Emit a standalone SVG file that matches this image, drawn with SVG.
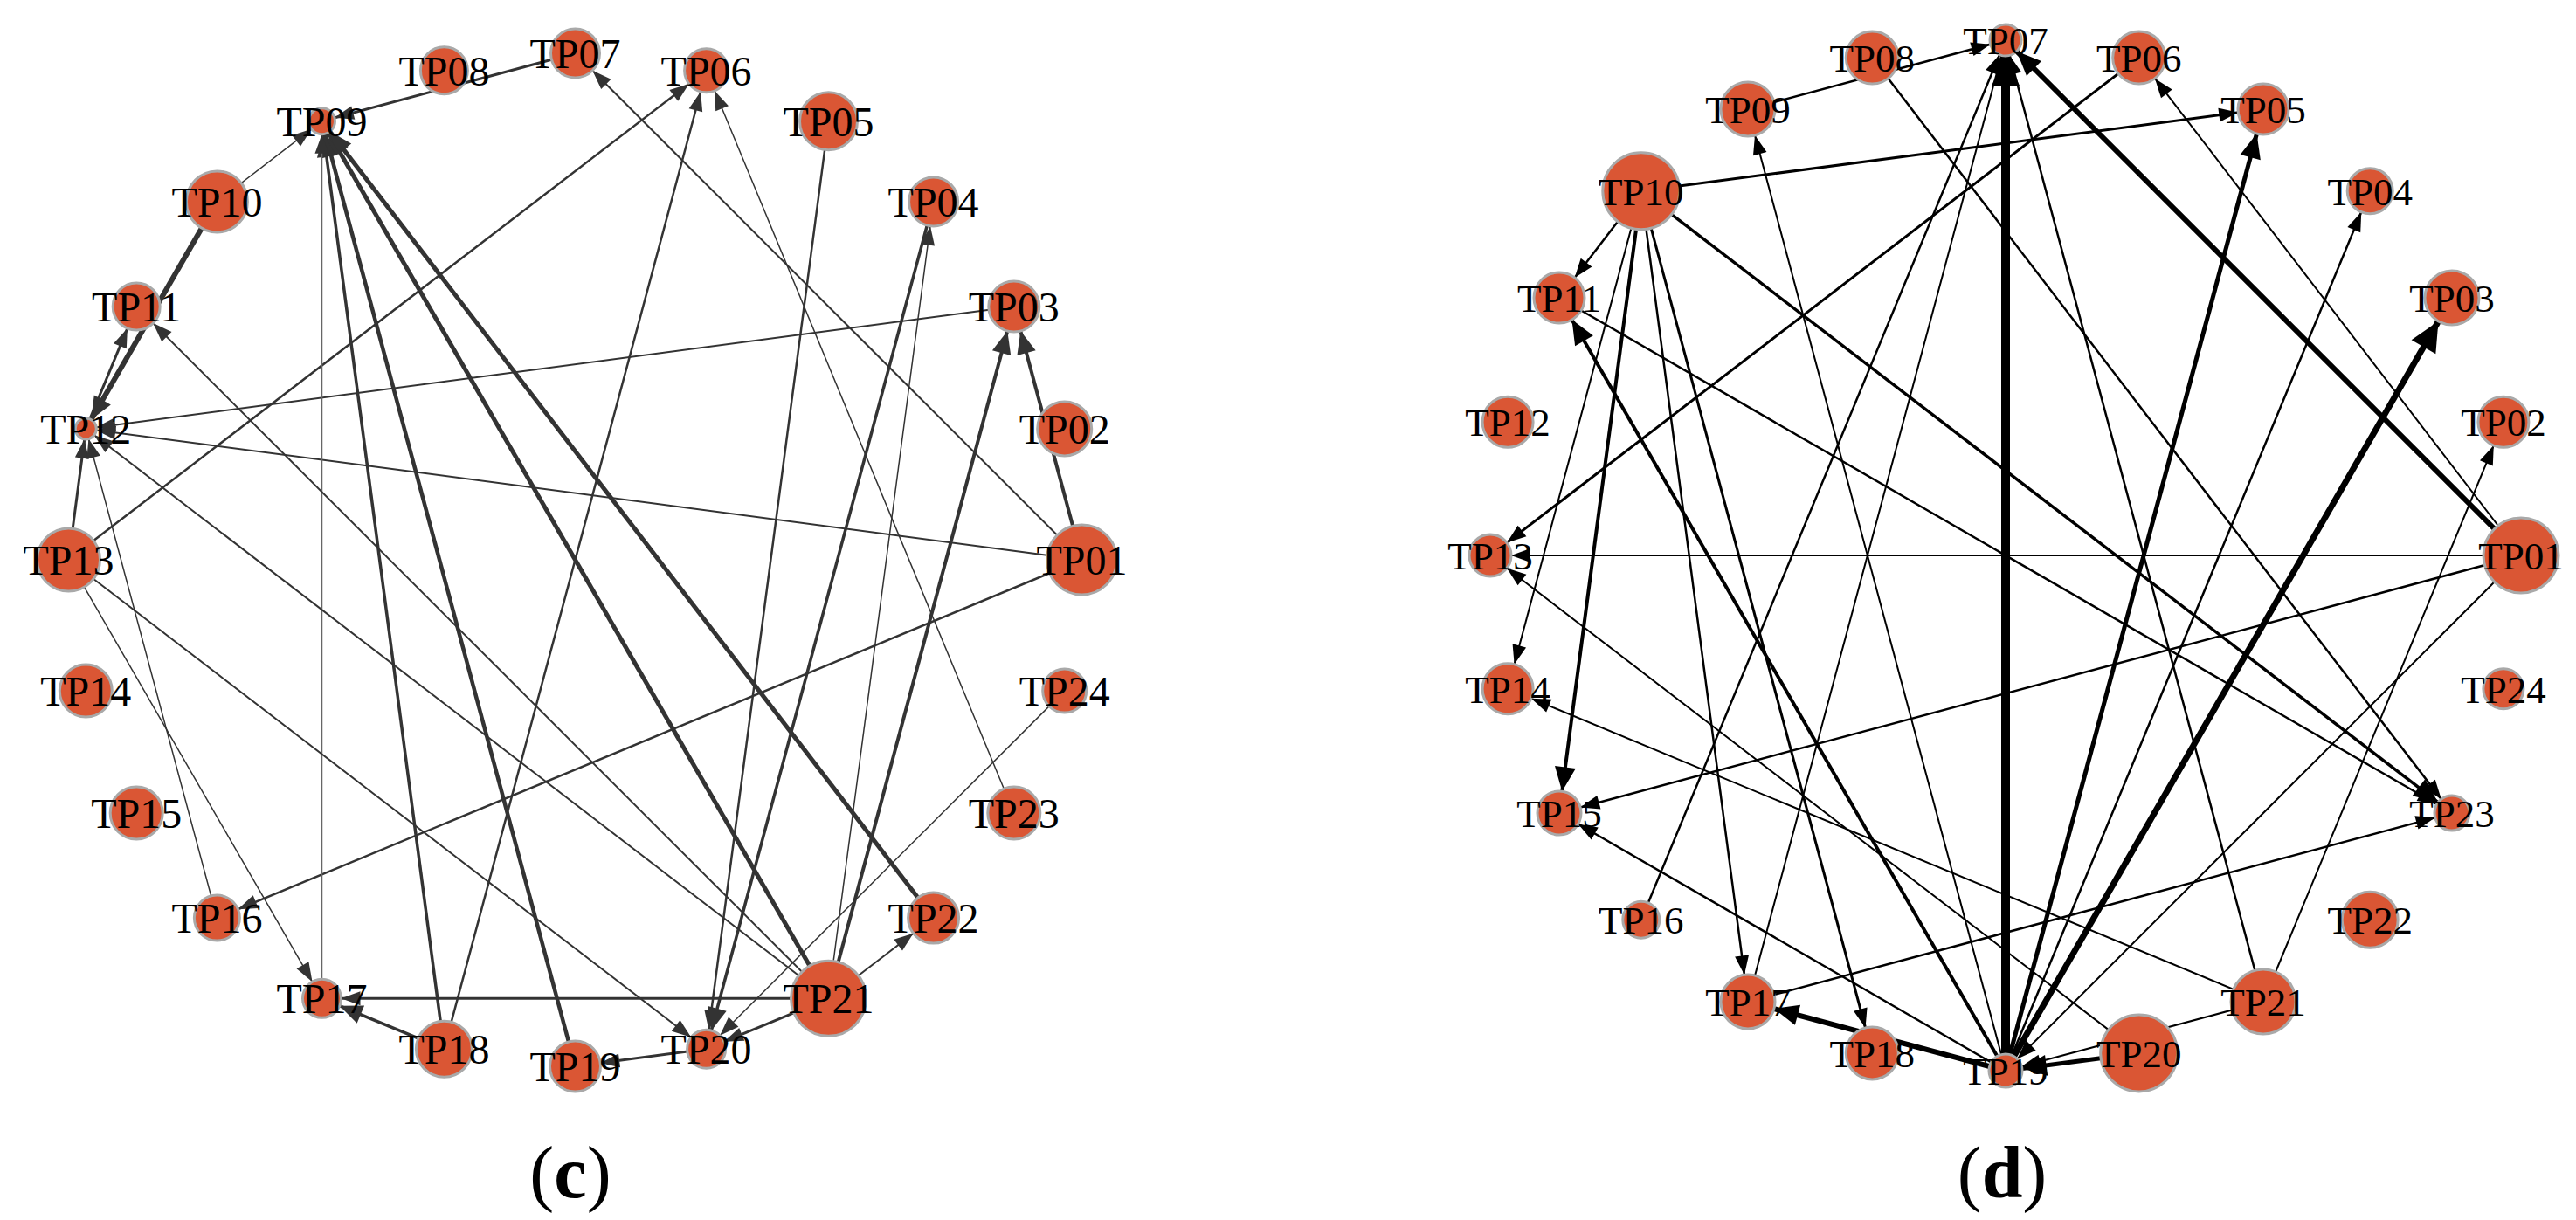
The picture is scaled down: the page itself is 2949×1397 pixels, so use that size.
<svg xmlns="http://www.w3.org/2000/svg" width="2949" height="1397" viewBox="0 0 2949 1397">
<style>
.nc{fill:#DA5634;stroke:#A9A9A9;stroke-width:3}
.lt{font-family:"Liberation Serif","Times New Roman",serif;font-size:48px;text-anchor:middle;fill:#000}
.rt{font-family:"Liberation Serif","Times New Roman",serif;font-size:45px;text-anchor:middle;fill:#000}
.le{stroke:#333;fill:none}
.lg{stroke:#666;fill:none}
.re{stroke:#000;fill:none}
.cap{font-family:"Liberation Serif","Times New Roman",serif;font-size:84px;text-anchor:middle;fill:#000}
</style>
<defs>
<path id="hl" d="M0,0L22,8L0,16Z" fill="#333"/>
<path id="hL" d="M0,0L26,11L0,22Z" fill="#333"/>
<path id="hr" d="M0,0L22,8L0,16Z" fill="#000"/>
<path id="hR" d="M0,0L28,12L0,24Z" fill="#000"/>
<path id="hX" d="M0,0L34,16L0,32Z" fill="#000"/>
<marker id="L12" markerUnits="userSpaceOnUse" orient="auto" markerWidth="22" markerHeight="16" refX="34" refY="8" overflow="visible"><use href="#hl"/></marker>
<marker id="L15" markerUnits="userSpaceOnUse" orient="auto" markerWidth="22" markerHeight="16" refX="37" refY="8" overflow="visible"><use href="#hl"/></marker>
<marker id="L22" markerUnits="userSpaceOnUse" orient="auto" markerWidth="22" markerHeight="16" refX="44" refY="8" overflow="visible"><use href="#hl"/></marker>
<marker id="L25" markerUnits="userSpaceOnUse" orient="auto" markerWidth="22" markerHeight="16" refX="47" refY="8" overflow="visible"><use href="#hl"/></marker>
<marker id="L26" markerUnits="userSpaceOnUse" orient="auto" markerWidth="22" markerHeight="16" refX="48" refY="8" overflow="visible"><use href="#hl"/></marker>
<marker id="L27" markerUnits="userSpaceOnUse" orient="auto" markerWidth="22" markerHeight="16" refX="49" refY="8" overflow="visible"><use href="#hl"/></marker>
<marker id="L28" markerUnits="userSpaceOnUse" orient="auto" markerWidth="22" markerHeight="16" refX="50" refY="8" overflow="visible"><use href="#hl"/></marker>
<marker id="L29" markerUnits="userSpaceOnUse" orient="auto" markerWidth="22" markerHeight="16" refX="51" refY="8" overflow="visible"><use href="#hl"/></marker>
<marker id="LT12" markerUnits="userSpaceOnUse" orient="auto" markerWidth="26" markerHeight="22" refX="38" refY="11" overflow="visible"><use href="#hL"/></marker>
<marker id="LT15" markerUnits="userSpaceOnUse" orient="auto" markerWidth="26" markerHeight="22" refX="41" refY="11" overflow="visible"><use href="#hL"/></marker>
<marker id="LT22" markerUnits="userSpaceOnUse" orient="auto" markerWidth="26" markerHeight="22" refX="48" refY="11" overflow="visible"><use href="#hL"/></marker>
<marker id="LT29" markerUnits="userSpaceOnUse" orient="auto" markerWidth="26" markerHeight="22" refX="55" refY="11" overflow="visible"><use href="#hL"/></marker>
<marker id="R18" markerUnits="userSpaceOnUse" orient="auto" markerWidth="22" markerHeight="16" refX="40" refY="8" overflow="visible"><use href="#hr"/></marker>
<marker id="R19" markerUnits="userSpaceOnUse" orient="auto" markerWidth="22" markerHeight="16" refX="41" refY="8" overflow="visible"><use href="#hr"/></marker>
<marker id="R20" markerUnits="userSpaceOnUse" orient="auto" markerWidth="22" markerHeight="16" refX="42" refY="8" overflow="visible"><use href="#hr"/></marker>
<marker id="R24" markerUnits="userSpaceOnUse" orient="auto" markerWidth="22" markerHeight="16" refX="46" refY="8" overflow="visible"><use href="#hr"/></marker>
<marker id="R25" markerUnits="userSpaceOnUse" orient="auto" markerWidth="22" markerHeight="16" refX="47" refY="8" overflow="visible"><use href="#hr"/></marker>
<marker id="R26" markerUnits="userSpaceOnUse" orient="auto" markerWidth="22" markerHeight="16" refX="48" refY="8" overflow="visible"><use href="#hr"/></marker>
<marker id="R29" markerUnits="userSpaceOnUse" orient="auto" markerWidth="22" markerHeight="16" refX="51" refY="8" overflow="visible"><use href="#hr"/></marker>
<marker id="R30" markerUnits="userSpaceOnUse" orient="auto" markerWidth="22" markerHeight="16" refX="52" refY="8" overflow="visible"><use href="#hr"/></marker>
<marker id="R31" markerUnits="userSpaceOnUse" orient="auto" markerWidth="22" markerHeight="16" refX="53" refY="8" overflow="visible"><use href="#hr"/></marker>
<marker id="RT18" markerUnits="userSpaceOnUse" orient="auto" markerWidth="28" markerHeight="24" refX="46" refY="12" overflow="visible"><use href="#hR"/></marker>
<marker id="RT19" markerUnits="userSpaceOnUse" orient="auto" markerWidth="28" markerHeight="24" refX="47" refY="12" overflow="visible"><use href="#hR"/></marker>
<marker id="RT20" markerUnits="userSpaceOnUse" orient="auto" markerWidth="28" markerHeight="24" refX="48" refY="12" overflow="visible"><use href="#hR"/></marker>
<marker id="RT25" markerUnits="userSpaceOnUse" orient="auto" markerWidth="28" markerHeight="24" refX="53" refY="12" overflow="visible"><use href="#hR"/></marker>
<marker id="RT29" markerUnits="userSpaceOnUse" orient="auto" markerWidth="28" markerHeight="24" refX="57" refY="12" overflow="visible"><use href="#hR"/></marker>
<marker id="RT31" markerUnits="userSpaceOnUse" orient="auto" markerWidth="28" markerHeight="24" refX="59" refY="12" overflow="visible"><use href="#hR"/></marker>
<marker id="RX18" markerUnits="userSpaceOnUse" orient="auto" markerWidth="34" markerHeight="32" refX="52" refY="16" overflow="visible"><use href="#hX"/></marker>
<marker id="RX31" markerUnits="userSpaceOnUse" orient="auto" markerWidth="34" markerHeight="32" refX="65" refY="16" overflow="visible"><use href="#hX"/></marker>
</defs>
<rect width="2949" height="1397" fill="#fff"/>

<g id="edges-c">
<line class="le" x1="1238.5" y1="641" x2="1160.8" y2="351" stroke-width="4" marker-end="url(#LT29)"/>
<line class="le" x1="948.5" y1="1143.3" x2="1160.8" y2="351" stroke-width="4" marker-end="url(#LT29)"/>
<line class="le" x1="1160.8" y1="351" x2="98.3" y2="490.9" stroke-width="2" marker-end="url(#L12)"/>
<line class="le" x1="1238.5" y1="641" x2="98.3" y2="490.9" stroke-width="2" marker-end="url(#L12)"/>
<line class="le" x1="1238.5" y1="641" x2="658.5" y2="61" stroke-width="2" marker-end="url(#L28)"/>
<line class="le" x1="1238.5" y1="641" x2="248.4" y2="1051.1" stroke-width="2.5" marker-end="url(#L26)"/>
<line class="le" x1="948.5" y1="138.7" x2="808.6" y2="1201.2" stroke-width="2.5" marker-end="url(#L22)"/>
<line class="le" x1="1068.6" y1="230.9" x2="808.6" y2="1201.2" stroke-width="3.5" marker-end="url(#LT22)"/>
<line class="le" x1="948.5" y1="1143.3" x2="1068.6" y2="230.9" stroke-width="1.5" marker-end="url(#L28)"/>
<line class="le" x1="1160.8" y1="931" x2="808.6" y2="80.8" stroke-width="1.5" marker-end="url(#L25)"/>
<line class="le" x1="508.4" y1="1201.2" x2="808.6" y2="80.8" stroke-width="2.5" marker-end="url(#L25)"/>
<line class="le" x1="78.5" y1="641" x2="808.6" y2="80.8" stroke-width="2.5" marker-end="url(#L25)"/>
<line class="le" x1="1218.7" y1="791.1" x2="808.6" y2="1201.2" stroke-width="1.5" marker-end="url(#L22)"/>
<line class="le" x1="948.5" y1="1143.3" x2="808.6" y2="1201.2" stroke-width="3" marker-end="url(#L22)"/>
<line class="le" x1="808.6" y1="1201.2" x2="658.5" y2="1221" stroke-width="3" marker-end="url(#L29)"/>
<line class="le" x1="948.5" y1="1143.3" x2="1068.6" y2="1051.1" stroke-width="2" marker-end="url(#L29)"/>
<line class="le" x1="948.5" y1="1143.3" x2="368.5" y2="138.7" stroke-width="5" marker-end="url(#LT15)"/>
<line class="le" x1="1068.6" y1="1051.1" x2="368.5" y2="138.7" stroke-width="5" marker-end="url(#LT15)"/>
<line class="le" x1="658.5" y1="1221" x2="368.5" y2="138.7" stroke-width="4.5" marker-end="url(#LT15)"/>
<line class="le" x1="508.4" y1="1201.2" x2="368.5" y2="138.7" stroke-width="3.5" marker-end="url(#LT15)"/>
<line class="lg" x1="368.5" y1="1143.3" x2="368.5" y2="138.7" stroke-width="1.5" marker-end="url(#L15)"/>
<line class="le" x1="948.5" y1="1143.3" x2="368.5" y2="1143.3" stroke-width="3" marker-end="url(#L22)"/>
<line class="le" x1="508.4" y1="1201.2" x2="368.5" y2="1143.3" stroke-width="3.5" marker-end="url(#LT22)"/>
<line class="le" x1="78.5" y1="641" x2="368.5" y2="1143.3" stroke-width="1.5" marker-end="url(#L22)"/>
<line class="le" x1="78.5" y1="641" x2="808.6" y2="1201.2" stroke-width="2" marker-end="url(#L22)"/>
<line class="le" x1="78.5" y1="641" x2="98.3" y2="490.9" stroke-width="3" marker-end="url(#L12)"/>
<line class="le" x1="248.4" y1="1051.1" x2="98.3" y2="490.9" stroke-width="1.5" marker-end="url(#L12)"/>
<line class="le" x1="948.5" y1="1143.3" x2="98.3" y2="490.9" stroke-width="2" marker-end="url(#L12)"/>
<line class="le" x1="948.5" y1="1143.3" x2="156.2" y2="351" stroke-width="2" marker-end="url(#L27)"/>
<line class="le" x1="248.4" y1="230.9" x2="98.3" y2="490.9" stroke-width="6" marker-end="url(#LT12)"/>
<line class="le" x1="98.3" y1="490.9" x2="156.2" y2="351" stroke-width="3" marker-end="url(#L27)"/>
<line class="le" x1="248.4" y1="230.9" x2="368.5" y2="138.7" stroke-width="1.5" marker-end="url(#L15)"/>
<line class="le" x1="658.5" y1="61" x2="368.5" y2="138.7" stroke-width="3" marker-end="url(#L15)"/>
</g>

<g id="edges-d">
<line class="re" x1="2296" y1="1226" x2="2296" y2="46" stroke-width="10" marker-end="url(#RX18)"/>
<line class="re" x1="2001" y1="125" x2="2296" y2="46" stroke-width="2.5" marker-end="url(#R18)"/>
<line class="re" x1="2143.3" y1="66.1" x2="2807" y2="931" stroke-width="2.5" marker-end="url(#R20)"/>
<line class="re" x1="1878.8" y1="218.8" x2="2807" y2="931" stroke-width="3.5" marker-end="url(#RT20)"/>
<line class="re" x1="1785" y1="341" x2="2807" y2="931" stroke-width="2.5" marker-end="url(#R20)"/>
<line class="re" x1="2001" y1="1147" x2="2807" y2="931" stroke-width="2.5" marker-end="url(#R20)"/>
<line class="re" x1="2591" y1="1147" x2="2296" y2="46" stroke-width="2.5" marker-end="url(#R18)"/>
<line class="re" x1="2886" y1="636" x2="2296" y2="46" stroke-width="6" marker-end="url(#RT18)"/>
<line class="re" x1="2886" y1="636" x2="2448.7" y2="66.1" stroke-width="2" marker-end="url(#R30)"/>
<line class="re" x1="2886" y1="636" x2="1706" y2="636" stroke-width="2" marker-end="url(#R24)"/>
<line class="re" x1="2886" y1="636" x2="1785" y2="931" stroke-width="2.5" marker-end="url(#R25)"/>
<line class="re" x1="2886" y1="636" x2="2296" y2="1226" stroke-width="2" marker-end="url(#R19)"/>
<line class="re" x1="1878.8" y1="218.8" x2="2591" y2="125" stroke-width="3" marker-end="url(#R29)"/>
<line class="re" x1="1878.8" y1="218.8" x2="1785" y2="341" stroke-width="2.5" marker-end="url(#R29)"/>
<line class="re" x1="1878.8" y1="218.8" x2="1785" y2="931" stroke-width="4" marker-end="url(#RT25)"/>
<line class="re" x1="1878.8" y1="218.8" x2="1726.1" y2="788.7" stroke-width="2" marker-end="url(#R29)"/>
<line class="re" x1="1878.8" y1="218.8" x2="2001" y2="1147" stroke-width="2.5" marker-end="url(#R31)"/>
<line class="re" x1="1878.8" y1="218.8" x2="2143.3" y2="1205.9" stroke-width="3" marker-end="url(#R30)"/>
<line class="re" x1="2296" y1="1226" x2="1785" y2="341" stroke-width="4" marker-end="url(#RT29)"/>
<line class="re" x1="2448.7" y1="66.1" x2="1706" y2="636" stroke-width="3" marker-end="url(#R24)"/>
<line class="re" x1="1878.8" y1="1053.2" x2="2296" y2="46" stroke-width="2.5" marker-end="url(#R18)"/>
<line class="re" x1="2001" y1="1147" x2="2296" y2="46" stroke-width="2" marker-end="url(#R18)"/>
<line class="re" x1="2296" y1="1226" x2="2001" y2="125" stroke-width="2" marker-end="url(#R31)"/>
<line class="re" x1="2296" y1="1226" x2="2591" y2="125" stroke-width="5" marker-end="url(#RT29)"/>
<line class="re" x1="2296" y1="1226" x2="2713.2" y2="218.8" stroke-width="2.5" marker-end="url(#R26)"/>
<line class="re" x1="2296" y1="1226" x2="2807" y2="341" stroke-width="7" marker-end="url(#RX31)"/>
<line class="re" x1="2296" y1="1226" x2="2001" y2="1147" stroke-width="6" marker-end="url(#RT31)"/>
<line class="re" x1="2296" y1="1226" x2="1785" y2="931" stroke-width="2.5" marker-end="url(#R25)"/>
<line class="re" x1="2591" y1="1147" x2="1726.1" y2="788.7" stroke-width="2" marker-end="url(#R29)"/>
<line class="re" x1="2448.7" y1="1205.9" x2="1706" y2="636" stroke-width="2" marker-end="url(#R24)"/>
<line class="re" x1="2591" y1="1147" x2="2865.9" y2="483.3" stroke-width="2" marker-end="url(#R29)"/>
<line class="re" x1="2448.7" y1="1205.9" x2="2296" y2="1226" stroke-width="5" marker-end="url(#RT19)"/>
<line class="re" x1="2591" y1="1147" x2="2296" y2="1226" stroke-width="2" marker-end="url(#R19)"/>
</g>

<g id="nodes-c">
<g id="c-TP01"><circle class="nc" cx="1238.5" cy="641" r="40"/><text class="lt" x="1238.5" y="658">TP01</text></g>
<g id="c-TP02"><circle class="nc" cx="1218.7" cy="490.9" r="31"/><text class="lt" x="1218.7" y="507.9">TP02</text></g>
<g id="c-TP03"><circle class="nc" cx="1160.8" cy="351" r="29"/><text class="lt" x="1160.8" y="368">TP03</text></g>
<g id="c-TP04"><circle class="nc" cx="1068.6" cy="230.9" r="28"/><text class="lt" x="1068.6" y="247.9">TP04</text></g>
<g id="c-TP05"><circle class="nc" cx="948.5" cy="138.7" r="33"/><text class="lt" x="948.5" y="155.7">TP05</text></g>
<g id="c-TP06"><circle class="nc" cx="808.6" cy="80.8" r="25"/><text class="lt" x="808.6" y="97.8">TP06</text></g>
<g id="c-TP07"><circle class="nc" cx="658.5" cy="61" r="28"/><text class="lt" x="658.5" y="78">TP07</text></g>
<g id="c-TP08"><circle class="nc" cx="508.4" cy="80.8" r="27"/><text class="lt" x="508.4" y="97.8">TP08</text></g>
<g id="c-TP09"><circle class="nc" cx="368.5" cy="138.7" r="15"/><text class="lt" x="368.5" y="155.7">TP09</text></g>
<g id="c-TP10"><circle class="nc" cx="248.4" cy="230.9" r="35"/><text class="lt" x="248.4" y="247.9">TP10</text></g>
<g id="c-TP11"><circle class="nc" cx="156.2" cy="351" r="27"/><text class="lt" x="156.2" y="368">TP11</text></g>
<g id="c-TP12"><circle class="nc" cx="98.3" cy="490.9" r="12"/><text class="lt" x="98.3" y="507.9">TP12</text></g>
<g id="c-TP13"><circle class="nc" cx="78.5" cy="641" r="36"/><text class="lt" x="78.5" y="658">TP13</text></g>
<g id="c-TP14"><circle class="nc" cx="98.3" cy="791.1" r="30"/><text class="lt" x="98.3" y="808.1">TP14</text></g>
<g id="c-TP15"><circle class="nc" cx="156.2" cy="931" r="30"/><text class="lt" x="156.2" y="948">TP15</text></g>
<g id="c-TP16"><circle class="nc" cx="248.4" cy="1051.1" r="26"/><text class="lt" x="248.4" y="1068.1">TP16</text></g>
<g id="c-TP17"><circle class="nc" cx="368.5" cy="1143.3" r="22"/><text class="lt" x="368.5" y="1160.3">TP17</text></g>
<g id="c-TP18"><circle class="nc" cx="508.4" cy="1201.2" r="32"/><text class="lt" x="508.4" y="1218.2">TP18</text></g>
<g id="c-TP19"><circle class="nc" cx="658.5" cy="1221" r="29"/><text class="lt" x="658.5" y="1238">TP19</text></g>
<g id="c-TP20"><circle class="nc" cx="808.6" cy="1201.2" r="22"/><text class="lt" x="808.6" y="1218.2">TP20</text></g>
<g id="c-TP21"><circle class="nc" cx="948.5" cy="1143.3" r="43"/><text class="lt" x="948.5" y="1160.3">TP21</text></g>
<g id="c-TP22"><circle class="nc" cx="1068.6" cy="1051.1" r="29"/><text class="lt" x="1068.6" y="1068.1">TP22</text></g>
<g id="c-TP23"><circle class="nc" cx="1160.8" cy="931" r="30"/><text class="lt" x="1160.8" y="948">TP23</text></g>
<g id="c-TP24"><circle class="nc" cx="1218.7" cy="791.1" r="25"/><text class="lt" x="1218.7" y="808.1">TP24</text></g>
</g>

<g id="nodes-d">
<g id="d-TP01"><circle class="nc" cx="2886" cy="636" r="43"/><text class="rt" x="2886" y="652">TP01</text></g>
<g id="d-TP02"><circle class="nc" cx="2865.9" cy="483.3" r="29"/><text class="rt" x="2865.9" y="499.3">TP02</text></g>
<g id="d-TP03"><circle class="nc" cx="2807" cy="341" r="31"/><text class="rt" x="2807" y="357">TP03</text></g>
<g id="d-TP04"><circle class="nc" cx="2713.2" cy="218.8" r="26"/><text class="rt" x="2713.2" y="234.8">TP04</text></g>
<g id="d-TP05"><circle class="nc" cx="2591" cy="125" r="29"/><text class="rt" x="2591" y="141">TP05</text></g>
<g id="d-TP06"><circle class="nc" cx="2448.7" cy="66.1" r="30"/><text class="rt" x="2448.7" y="82.1">TP06</text></g>
<g id="d-TP07"><circle class="nc" cx="2296" cy="46" r="18"/><text class="rt" x="2296" y="62">TP07</text></g>
<g id="d-TP08"><circle class="nc" cx="2143.3" cy="66.1" r="30"/><text class="rt" x="2143.3" y="82.1">TP08</text></g>
<g id="d-TP09"><circle class="nc" cx="2001" cy="125" r="31"/><text class="rt" x="2001" y="141">TP09</text></g>
<g id="d-TP10"><circle class="nc" cx="1878.8" cy="218.8" r="44"/><text class="rt" x="1878.8" y="234.8">TP10</text></g>
<g id="d-TP11"><circle class="nc" cx="1785" cy="341" r="29"/><text class="rt" x="1785" y="357">TP11</text></g>
<g id="d-TP12"><circle class="nc" cx="1726.1" cy="483.3" r="29"/><text class="rt" x="1726.1" y="499.3">TP12</text></g>
<g id="d-TP13"><circle class="nc" cx="1706" cy="636" r="24"/><text class="rt" x="1706" y="652">TP13</text></g>
<g id="d-TP14"><circle class="nc" cx="1726.1" cy="788.7" r="29"/><text class="rt" x="1726.1" y="804.7">TP14</text></g>
<g id="d-TP15"><circle class="nc" cx="1785" cy="931" r="25"/><text class="rt" x="1785" y="947">TP15</text></g>
<g id="d-TP16"><circle class="nc" cx="1878.8" cy="1053.2" r="21"/><text class="rt" x="1878.8" y="1069.2">TP16</text></g>
<g id="d-TP17"><circle class="nc" cx="2001" cy="1147" r="31"/><text class="rt" x="2001" y="1163">TP17</text></g>
<g id="d-TP18"><circle class="nc" cx="2143.3" cy="1205.9" r="30"/><text class="rt" x="2143.3" y="1221.9">TP18</text></g>
<g id="d-TP19"><circle class="nc" cx="2296" cy="1226" r="19"/><text class="rt" x="2296" y="1242">TP19</text></g>
<g id="d-TP20"><circle class="nc" cx="2448.7" cy="1205.9" r="44"/><text class="rt" x="2448.7" y="1221.9">TP20</text></g>
<g id="d-TP21"><circle class="nc" cx="2591" cy="1147" r="37"/><text class="rt" x="2591" y="1163">TP21</text></g>
<g id="d-TP22"><circle class="nc" cx="2713.2" cy="1053.2" r="32"/><text class="rt" x="2713.2" y="1069.2">TP22</text></g>
<g id="d-TP23"><circle class="nc" cx="2807" cy="931" r="20"/><text class="rt" x="2807" y="947">TP23</text></g>
<g id="d-TP24"><circle class="nc" cx="2865.9" cy="788.7" r="23"/><text class="rt" x="2865.9" y="804.7">TP24</text></g>
</g>

<g id="captions">
<text class="cap" x="653" y="1371">(<tspan font-weight="bold">c</tspan>)</text>
<text class="cap" x="2292" y="1371">(<tspan font-weight="bold">d</tspan>)</text>
</g>
</svg>
